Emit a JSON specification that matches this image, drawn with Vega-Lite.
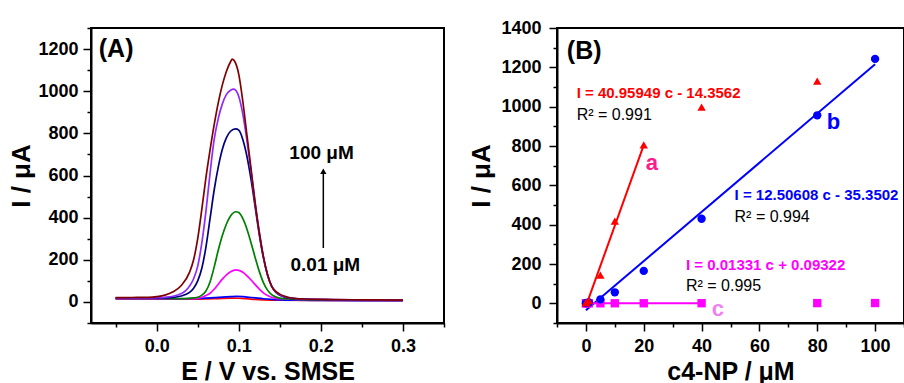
{
  "$schema": "https://vega.github.io/schema/vega-lite/v6.json",
  "background": "white",
  "padding": {"left": 7, "top": 18, "right": 0, "bottom": 0},
  "bounds": "flush",
  "spacing": 113,
  "resolve": {"scale": {"color": "independent", "shape": "independent"}},
  "config": {
    "font": "Liberation Sans",
    "view": {"stroke": "black", "strokeWidth": 2},
    "axis": {
      "grid": false,
      "domainColor": "black",
      "domainWidth": 2,
      "tickColor": "black",
      "tickWidth": 1.5,
      "labelFont": "Liberation Sans",
      "labelFontWeight": "bold",
      "labelFontSize": 18,
      "labelColor": "black",
      "titleFont": "Liberation Sans",
      "titleFontWeight": "bold",
      "titleColor": "black"
    },
    "text": {"font": "Liberation Sans"}
  },
  "hconcat": [
    {
      "width": 353,
      "height": 295,
      "encoding": {
        "x": {"field": "E", "type": "quantitative",
          "scale": {"domain": [-0.08, 0.35], "nice": false, "zero": false},
          "axis": {"title": "E / V vs. SMSE", "titleFontSize": 25, "titlePadding": 4,
            "values": [-0.05, 0, 0.05, 0.1, 0.15, 0.2, 0.25, 0.3, 0.35],
            "labelExpr": "abs(datum.value*10-round(datum.value*10))<0.001 ? format(datum.value,'.1f') : ''",
            "tickSize": {"condition": {"test": "abs(datum.value*10-round(datum.value*10))<0.001", "value": 8}, "value": 4},
            "labelPadding": 6}},
        "y": {"field": "I", "type": "quantitative",
          "scale": {"domain": [-100, 1300], "nice": false, "zero": false},
          "axis": {"title": "I / μA", "titleFontSize": 26, "titlePadding": 3,
            "values": [-100, 0, 100, 200, 300, 400, 500, 600, 700, 800, 900, 1000, 1100, 1200, 1300],
            "labelExpr": "datum.value >= 0 && datum.value % 200 == 0 ? format(datum.value,'d') : ''",
            "tickSize": {"condition": {"test": "datum.value % 200 == 0", "value": 8}, "value": 4},
            "labelPadding": 5}}
      },
      "layer": [
        {
          "data": {"values": [
            {"s":"s1","E":-0.05,"I":14},{"s":"s1","E":0,"I":13},{"s":"s1","E":0.04,"I":13},{"s":"s1","E":0.06,"I":14},{"s":"s1","E":0.07,"I":15},{"s":"s1","E":0.08,"I":17},{"s":"s1","E":0.09,"I":18},{"s":"s1","E":0.1,"I":17.5},{"s":"s1","E":0.11,"I":15},{"s":"s1","E":0.12,"I":12},{"s":"s1","E":0.13,"I":10},{"s":"s1","E":0.15,"I":8},{"s":"s1","E":0.2,"I":7},{"s":"s1","E":0.3,"I":6},
            {"s":"s2","E":-0.05,"I":15},{"s":"s2","E":-0.01,"I":15},{"s":"s2","E":0.02,"I":15},{"s":"s2","E":0.04,"I":16},{"s":"s2","E":0.06,"I":18},{"s":"s2","E":0.07,"I":20},{"s":"s2","E":0.08,"I":23},{"s":"s2","E":0.09,"I":25},{"s":"s2","E":0.097,"I":26},{"s":"s2","E":0.105,"I":25},{"s":"s2","E":0.11,"I":23},{"s":"s2","E":0.12,"I":19},{"s":"s2","E":0.13,"I":15},{"s":"s2","E":0.14,"I":12},{"s":"s2","E":0.15,"I":10},{"s":"s2","E":0.17,"I":8},{"s":"s2","E":0.2,"I":7},{"s":"s2","E":0.25,"I":6},{"s":"s2","E":0.3,"I":6},
            {"s":"s3","E":-0.05,"I":16},{"s":"s3","E":-0.01,"I":16},{"s":"s3","E":0.02,"I":15},{"s":"s3","E":0.04,"I":15},{"s":"s3","E":0.05,"I":18},{"s":"s3","E":0.055,"I":22},{"s":"s3","E":0.06,"I":30},{"s":"s3","E":0.065,"I":41},{"s":"s3","E":0.07,"I":60},{"s":"s3","E":0.075,"I":84},{"s":"s3","E":0.08,"I":108},{"s":"s3","E":0.085,"I":128},{"s":"s3","E":0.09,"I":143},{"s":"s3","E":0.0965,"I":152},{"s":"s3","E":0.1,"I":150},{"s":"s3","E":0.105,"I":141},{"s":"s3","E":0.11,"I":124},{"s":"s3","E":0.115,"I":104},{"s":"s3","E":0.12,"I":82},{"s":"s3","E":0.125,"I":61},{"s":"s3","E":0.13,"I":43},{"s":"s3","E":0.135,"I":30},{"s":"s3","E":0.14,"I":22},{"s":"s3","E":0.145,"I":17},{"s":"s3","E":0.15,"I":15},{"s":"s3","E":0.16,"I":13},{"s":"s3","E":0.2,"I":10},{"s":"s3","E":0.25,"I":9},{"s":"s3","E":0.3,"I":8},
            {"s":"s4","E":-0.05,"I":17},{"s":"s4","E":-0.01,"I":17},{"s":"s4","E":0.02,"I":16},{"s":"s4","E":0.03,"I":16},{"s":"s4","E":0.04,"I":17},{"s":"s4","E":0.045,"I":19},{"s":"s4","E":0.05,"I":22},{"s":"s4","E":0.055,"I":32},{"s":"s4","E":0.06,"I":52},{"s":"s4","E":0.065,"I":95},{"s":"s4","E":0.07,"I":165},{"s":"s4","E":0.075,"I":245},{"s":"s4","E":0.08,"I":315},{"s":"s4","E":0.085,"I":370},{"s":"s4","E":0.09,"I":408},{"s":"s4","E":0.0965,"I":428},{"s":"s4","E":0.1,"I":424},{"s":"s4","E":0.105,"I":395},{"s":"s4","E":0.11,"I":345},{"s":"s4","E":0.115,"I":280},{"s":"s4","E":0.12,"I":210},{"s":"s4","E":0.125,"I":145},{"s":"s4","E":0.13,"I":92},{"s":"s4","E":0.135,"I":56},{"s":"s4","E":0.14,"I":35},{"s":"s4","E":0.145,"I":24},{"s":"s4","E":0.15,"I":18},{"s":"s4","E":0.16,"I":14},{"s":"s4","E":0.17,"I":12},{"s":"s4","E":0.2,"I":10},{"s":"s4","E":0.25,"I":9},{"s":"s4","E":0.3,"I":8},
            {"s":"s5","E":-0.05,"I":18},{"s":"s5","E":-0.01,"I":18},{"s":"s5","E":0,"I":18},{"s":"s5","E":0.01,"I":19},{"s":"s5","E":0.02,"I":21},{"s":"s5","E":0.03,"I":28},{"s":"s5","E":0.035,"I":35},{"s":"s5","E":0.04,"I":45},{"s":"s5","E":0.045,"I":65},{"s":"s5","E":0.05,"I":100},{"s":"s5","E":0.055,"I":160},{"s":"s5","E":0.06,"I":260},{"s":"s5","E":0.065,"I":395},{"s":"s5","E":0.07,"I":530},{"s":"s5","E":0.075,"I":640},{"s":"s5","E":0.08,"I":725},{"s":"s5","E":0.085,"I":780},{"s":"s5","E":0.09,"I":810},{"s":"s5","E":0.096,"I":821},{"s":"s5","E":0.1,"I":815},{"s":"s5","E":0.105,"I":770},{"s":"s5","E":0.11,"I":690},{"s":"s5","E":0.115,"I":580},{"s":"s5","E":0.12,"I":450},{"s":"s5","E":0.125,"I":320},{"s":"s5","E":0.13,"I":210},{"s":"s5","E":0.135,"I":128},{"s":"s5","E":0.14,"I":75},{"s":"s5","E":0.145,"I":46},{"s":"s5","E":0.15,"I":32},{"s":"s5","E":0.155,"I":24},{"s":"s5","E":0.16,"I":19},{"s":"s5","E":0.17,"I":15},{"s":"s5","E":0.18,"I":13},{"s":"s5","E":0.2,"I":11},{"s":"s5","E":0.25,"I":9},{"s":"s5","E":0.3,"I":8},
            {"s":"s6","E":-0.05,"I":19},{"s":"s6","E":-0.01,"I":19},{"s":"s6","E":0,"I":20},{"s":"s6","E":0.01,"I":22},{"s":"s6","E":0.02,"I":27},{"s":"s6","E":0.03,"I":40},{"s":"s6","E":0.035,"I":52},{"s":"s6","E":0.04,"I":75},{"s":"s6","E":0.045,"I":110},{"s":"s6","E":0.05,"I":170},{"s":"s6","E":0.055,"I":280},{"s":"s6","E":0.06,"I":430},{"s":"s6","E":0.065,"I":610},{"s":"s6","E":0.07,"I":770},{"s":"s6","E":0.075,"I":870},{"s":"s6","E":0.08,"I":940},{"s":"s6","E":0.085,"I":985},{"s":"s6","E":0.09,"I":1005},{"s":"s6","E":0.094,"I":1010},{"s":"s6","E":0.1,"I":975},{"s":"s6","E":0.105,"I":890},{"s":"s6","E":0.11,"I":765},{"s":"s6","E":0.115,"I":620},{"s":"s6","E":0.12,"I":465},{"s":"s6","E":0.125,"I":330},{"s":"s6","E":0.13,"I":215},{"s":"s6","E":0.135,"I":130},{"s":"s6","E":0.14,"I":75},{"s":"s6","E":0.145,"I":48},{"s":"s6","E":0.15,"I":34},{"s":"s6","E":0.155,"I":26},{"s":"s6","E":0.16,"I":21},{"s":"s6","E":0.17,"I":16},{"s":"s6","E":0.18,"I":14},{"s":"s6","E":0.2,"I":12},{"s":"s6","E":0.25,"I":10},{"s":"s6","E":0.3,"I":9},
            {"s":"s7","E":-0.05,"I":20},{"s":"s7","E":-0.03,"I":21},{"s":"s7","E":-0.01,"I":22},{"s":"s7","E":0,"I":25},{"s":"s7","E":0.01,"I":32},{"s":"s7","E":0.02,"I":48},{"s":"s7","E":0.03,"I":78},{"s":"s7","E":0.04,"I":140},{"s":"s7","E":0.045,"I":200},{"s":"s7","E":0.05,"I":300},{"s":"s7","E":0.055,"I":440},{"s":"s7","E":0.06,"I":590},{"s":"s7","E":0.065,"I":720},{"s":"s7","E":0.07,"I":840},{"s":"s7","E":0.075,"I":945},{"s":"s7","E":0.08,"I":1030},{"s":"s7","E":0.085,"I":1095},{"s":"s7","E":0.09,"I":1140},{"s":"s7","E":0.092,"I":1152},{"s":"s7","E":0.095,"I":1142},{"s":"s7","E":0.1,"I":1080},{"s":"s7","E":0.105,"I":950},{"s":"s7","E":0.11,"I":790},{"s":"s7","E":0.115,"I":630},{"s":"s7","E":0.12,"I":470},{"s":"s7","E":0.125,"I":330},{"s":"s7","E":0.13,"I":215},{"s":"s7","E":0.135,"I":130},{"s":"s7","E":0.14,"I":75},{"s":"s7","E":0.145,"I":50},{"s":"s7","E":0.15,"I":37},{"s":"s7","E":0.155,"I":28},{"s":"s7","E":0.16,"I":22},{"s":"s7","E":0.17,"I":16},{"s":"s7","E":0.18,"I":14},{"s":"s7","E":0.2,"I":12},{"s":"s7","E":0.25,"I":10},{"s":"s7","E":0.3,"I":9}
          ]},
          "mark": {"type": "line", "interpolate": "monotone", "strokeWidth": 1.7},
          "encoding": {
            "color": {"field": "s", "type": "nominal", "legend": null,
              "scale": {"domain": ["s1","s2","s3","s4","s5","s6","s7"],
                "range": ["#FF0000","#0000FF","#FF00FF","#008000","#000080","#8E2BFF","#800000"]}}
          }
        },
        {
          "data": {"values": [{"E": 0.203, "I": 256, "I2": 618}]},
          "mark": {"type": "rule", "color": "black", "strokeWidth": 1.5},
          "encoding": {"y2": {"field": "I2"}}
        },
        {
          "data": {"values": [{"E": 0.203, "I": 620}]},
          "mark": {"type": "point", "shape": "triangle-up", "filled": true, "color": "black", "size": 40, "opacity": 1}
        },
        {
          "data": {"values": [{"E": -0.0705, "I": 1200, "t": "(A)"}]},
          "mark": {"type": "text", "align": "left", "baseline": "middle", "fontSize": 25, "fontWeight": "bold", "color": "black"},
          "encoding": {"text": {"field": "t"}}
        },
        {
          "data": {"values": [{"E": 0.1616, "I": 708, "t": "100 μM"}, {"E": 0.163, "I": 175, "t": "0.01 μM"}]},
          "mark": {"type": "text", "align": "left", "baseline": "middle", "fontSize": 19, "fontWeight": "bold", "color": "black"},
          "encoding": {"text": {"field": "t"}}
        }
      ]
    },
    {
      "width": 347,
      "height": 295,
      "encoding": {
        "x": {"field": "c", "type": "quantitative",
          "scale": {"domain": [-10, 110], "nice": false, "zero": false},
          "axis": {"title": "c4-NP / μM", "titleFontSize": 25, "titlePadding": 4,
            "values": [-10, 0, 10, 20, 30, 40, 50, 60, 70, 80, 90, 100, 110],
            "labelExpr": "datum.value >= 0 && datum.value <= 100 && datum.value % 20 == 0 ? format(datum.value,'d') : ''",
            "tickSize": {"condition": {"test": "datum.value % 20 == 0", "value": 8}, "value": 4},
            "labelPadding": 6}},
        "y": {"field": "I", "type": "quantitative",
          "scale": {"domain": [-100, 1400], "nice": false, "zero": false},
          "axis": {"title": "I / μA", "titleFontSize": 26, "titlePadding": 6,
            "values": [-100, 0, 100, 200, 300, 400, 500, 600, 700, 800, 900, 1000, 1100, 1200, 1300, 1400],
            "labelExpr": "datum.value >= 0 && datum.value % 200 == 0 ? format(datum.value,'d') : ''",
            "tickSize": {"condition": {"test": "datum.value % 200 == 0", "value": 8}, "value": 4},
            "labelPadding": 8}}
      },
      "layer": [
        {
          "data": {"values": [
            {"k":"a","c":0,"I":-14.36},{"k":"a","c":20,"I":804.83},
            {"k":"b","c":0,"I":-35.35},{"k":"b","c":100,"I":1215.26},
            {"k":"c","c":0,"I":0.09},{"k":"c","c":40,"I":0.63}
          ]},
          "mark": {"type": "line", "strokeWidth": 2},
          "encoding": {
            "color": {"field": "k", "type": "nominal", "legend": null,
              "scale": {"domain": ["a","b","c","k","la","lb","lc"], "range": ["#FF0000","#0000FF","#FF00FF","#000000","#FF1A8C","#0000FF","#EE82EE"]}}
          }
        },
        {
          "data": {"values": [
            {"k":"c","c":0.01,"I":0.1},{"k":"c","c":0.1,"I":0.1},{"k":"c","c":1,"I":0.1},{"k":"c","c":5,"I":0.2},{"k":"c","c":10,"I":0.3},{"k":"c","c":20,"I":0.4},{"k":"c","c":40,"I":0.6},{"k":"c","c":80,"I":1.2},{"k":"c","c":100,"I":1.4},
            {"k":"b","c":0.01,"I":1},{"k":"b","c":0.1,"I":2},{"k":"b","c":1,"I":4},{"k":"b","c":5,"I":20},{"k":"b","c":10,"I":56},{"k":"b","c":20,"I":165},{"k":"b","c":40,"I":430},{"k":"b","c":80,"I":956},{"k":"b","c":100,"I":1243},
            {"k":"a","c":0.01,"I":2},{"k":"a","c":0.1,"I":6},{"k":"a","c":1,"I":14},{"k":"a","c":5,"I":143},{"k":"a","c":10,"I":418},{"k":"a","c":20,"I":806},{"k":"a","c":40,"I":998},{"k":"a","c":80,"I":1130}
          ]},
          "mark": {"type": "point", "filled": true, "opacity": 1, "size": 70},
          "encoding": {
            "color": {"field": "k", "type": "nominal", "legend": null,
              "scale": {"domain": ["a","b","c","k","la","lb","lc"], "range": ["#FF0000","#0000FF","#FF00FF","#000000","#FF1A8C","#0000FF","#EE82EE"]}},
            "shape": {"field": "k", "type": "nominal", "legend": null,
              "scale": {"domain": ["a","b","c"], "range": ["triangle-up","circle","square"]}}
          }
        },
        {
          "data": {"values": [
            {"k":"a","c":-3.2,"I":1072,"t":"I = 40.95949 c - 14.3562"},
            {"k":"b","c":51.4,"I":553,"t":"I = 12.50608 c - 35.3502"},
            {"k":"c","c":34.6,"I":197,"t":"I = 0.01331 c + 0.09322"}
          ]},
          "mark": {"type": "text", "align": "left", "baseline": "middle", "fontSize": 15, "fontWeight": "bold"},
          "encoding": {
            "text": {"field": "t"},
            "color": {"field": "k", "type": "nominal", "legend": null,
              "scale": {"domain": ["a","b","c","k","la","lb","lc"], "range": ["#FF0000","#0000FF","#FF00FF","#000000","#FF1A8C","#0000FF","#EE82EE"]}}
          }
        },
        {
          "data": {"values": [
            {"k":"k","c":-3.2,"I":959,"t":"R² = 0.991"},
            {"k":"k","c":51.4,"I":439,"t":"R² = 0.994"},
            {"k":"k","c":34.6,"I":89,"t":"R² = 0.995"}
          ]},
          "mark": {"type": "text", "align": "left", "baseline": "middle", "fontSize": 16},
          "encoding": {
            "text": {"field": "t"},
            "color": {"field": "k", "type": "nominal", "legend": null,
              "scale": {"domain": ["a","b","c","k","la","lb","lc"], "range": ["#FF0000","#0000FF","#FF00FF","#000000","#FF1A8C","#0000FF","#EE82EE"]}}
          }
        },
        {
          "data": {"values": [
            {"k":"la","c":20.7,"I":713,"t":"a"},
            {"k":"lb","c":83.3,"I":922,"t":"b"},
            {"k":"lc","c":43.5,"I":-29,"t":"c"}
          ]},
          "mark": {"type": "text", "align": "left", "baseline": "middle", "fontSize": 22, "fontWeight": "bold"},
          "encoding": {
            "text": {"field": "t"},
            "color": {"field": "k", "type": "nominal", "legend": null,
              "scale": {"domain": ["a","b","c","k","la","lb","lc"], "range": ["#FF0000","#0000FF","#FF00FF","#000000","#FF1A8C","#0000FF","#EE82EE"]}}
          }
        },
        {
          "data": {"values": [{"c": -6.6, "I": 1283, "t": "(B)"}]},
          "mark": {"type": "text", "align": "left", "baseline": "middle", "fontSize": 25, "fontWeight": "bold", "color": "black"},
          "encoding": {"text": {"field": "t"}}
        }
      ]
    }
  ]
}
